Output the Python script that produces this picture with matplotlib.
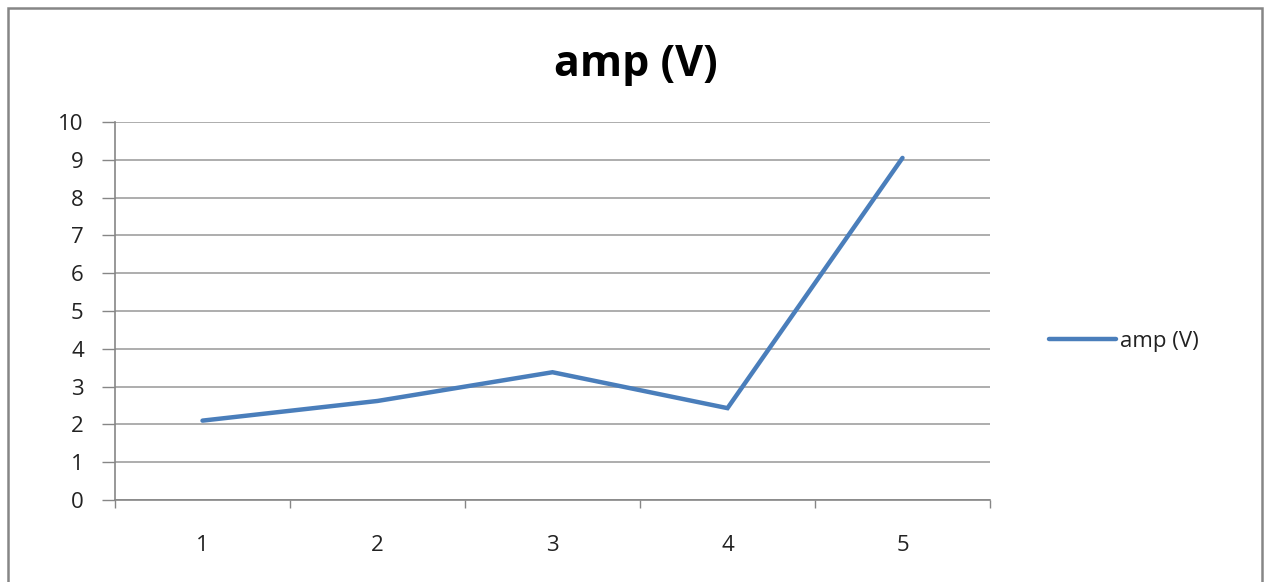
import matplotlib.pyplot as plt
from matplotlib.patches import Rectangle

# data
categories = [1, 2, 3, 4, 5]
amp = [2.1, 2.62, 3.38, 2.43, 9.05]
y_ticks = list(range(0, 11))

plt.rcParams['font.family'] = ['Open Sans', 'DejaVu Sans']

fig = plt.figure(figsize=(12.64, 5.82), dpi=100)
ax = fig.add_axes([115 / 1264, 82 / 582, 875 / 1264, 378 / 582])

ax.plot(categories, amp, color='#4a7ebb', linewidth=3.2, label='amp (V)',
        solid_capstyle='round', solid_joinstyle='miter')

ax.set_xlim(0.5, 5.5)
ax.set_ylim(0, 10)
ax.set_yticks(y_ticks)
ax.set_xticks(categories)
ax.set_xticks([0.5, 1.5, 2.5, 3.5, 4.5, 5.5], minor=True)
ax.tick_params(axis='x', which='major', length=0, pad=25, labelsize=16, labelcolor='#222222')
ax.tick_params(axis='x', which='minor', length=6, width=1, color='#868686', direction='out')
ax.tick_params(axis='y', length=9.5, width=1, color='#868686', labelsize=16, pad=13,
               labelcolor='#222222')

ax.grid(axis='y', color='#a0a0a0', linewidth=1.2)
ax.set_axisbelow(True)
for s in ['top', 'right']:
    ax.spines[s].set_visible(False)
ax.spines['left'].set_color('#868686')
ax.spines['bottom'].set_color('#868686')
ax.spines['left'].set_linewidth(1.2)
ax.spines['bottom'].set_linewidth(1.2)

fig.text(636 / 1264, 1 - 64 / 582, 'amp (V)', ha='center', va='center',
         fontsize=31, fontweight='bold')

ax.legend(loc='center left', bbox_to_anchor=(1.045, 0.42), frameon=False,
          fontsize=16, handlelength=3.0, handletextpad=0.2,
          labelcolor='#222222')

# outer frame
fig.patches.append(Rectangle((8 / 1264, -0.01), 1254 / 1264, 1 - 8 / 582 + 0.01,
                             transform=fig.transFigure, fill=False,
                             edgecolor='#868686', linewidth=1.8))

fig.savefig('out.png', dpi=100)
